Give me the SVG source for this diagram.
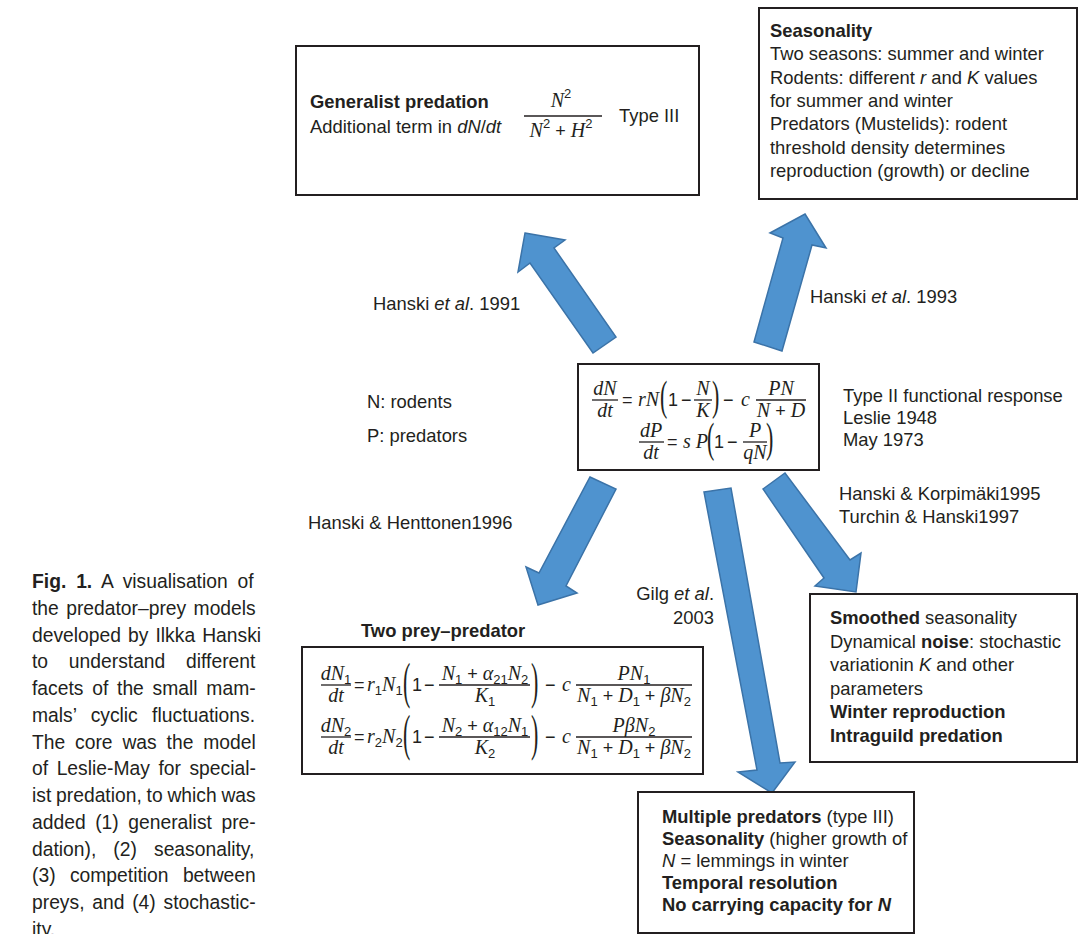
<svg xmlns="http://www.w3.org/2000/svg" width="1088" height="934" viewBox="0 0 1088 934">
<style>
text{font-family:"Liberation Sans",Arial,sans-serif;font-size:18.4px;fill:#231f20}
.b{font-weight:bold}
.i{font-style:italic}
.m{font-family:"Liberation Serif","Times New Roman",serif;font-style:italic;font-size:20px}
.s{font-family:"Liberation Sans",Arial,sans-serif;font-style:normal;font-size:13px}
.o{font-family:"Liberation Sans",Arial,sans-serif;font-style:normal;font-size:18px}
.p{font-family:"Liberation Serif","Times New Roman",serif;font-style:normal;font-size:22px}
.cap{font-size:19.3px}
.box{fill:#fff;stroke:#231f20;stroke-width:2}
.bar{stroke:#231f20;stroke-width:1.3}
.arr{fill:#4f93cf;stroke:#3b73a8;stroke-width:1.5;stroke-linejoin:miter}
</style>
<rect width="1088" height="934" fill="#fff"/>

<g id="connectors">
<polygon class="arr" points="525,233 565,240 554,248 616,337 593,353 530,263 518,272"/>
<polygon class="arr" points="805,214 826,248 812,245 782,351 754,342 783,238 770,233"/>
<polygon class="arr" points="590,477 616,489 566,586 577,593 538,605 526,567 539,573"/>
<polygon class="arr" points="704,492 731,488 780,763 795,762 772,793 738,772 757,770"/>
<polygon class="arr" points="763,489 785,473 850,560 861,553 856,592 815,586 824,578"/>
</g>

<g id="generalist">
<rect class="box" x="296" y="46" width="403" height="149"/>
<text class="b" x="310" y="108">Generalist predation</text>
<text x="310" y="133">Additional term in <tspan class="i">dN</tspan>/<tspan class="i">dt</tspan></text>
<text class="m" x="561" y="107" text-anchor="middle">N<tspan class="s" dy="-9">2</tspan></text>
<line class="bar" x1="524" y1="116" x2="602" y2="116"/>
<text class="m" x="561" y="137" text-anchor="middle">N<tspan class="s" dy="-9">2</tspan><tspan class="o" dy="9"> + </tspan>H<tspan class="s" dy="-9">2</tspan></text>
<text x="619" y="122">Type III</text>
</g>

<g id="seasonality">
<rect class="box" x="759" y="8" width="318" height="191"/>
<text class="b" x="770" y="37">Seasonality</text>
<text x="770" y="60.3">Two seasons: summer and winter</text>
<text x="770" y="83.6">Rodents: different <tspan class="i">r</tspan> and <tspan class="i">K</tspan> values</text>
<text x="770" y="107">for summer and winter</text>
<text x="770" y="130.3">Predators (Mustelids): rodent</text>
<text x="770" y="153.6">threshold density determines</text>
<text x="770" y="177">reproduction (growth) or decline</text>
</g>

<g id="labels">
<text x="373" y="310">Hanski <tspan class="i">et al</tspan>. 1991</text>
<text x="810" y="303">Hanski <tspan class="i">et al</tspan>. 1993</text>
<text x="367" y="408">N: rodents</text>
<text x="367" y="442">P: predators</text>
<text x="843" y="402">Type II functional response</text>
<text x="843" y="424">Leslie 1948</text>
<text x="843" y="446">May 1973</text>
<text x="308" y="529">Hanski &amp; Henttonen1996</text>
<text x="714" y="600" text-anchor="end">Gilg <tspan class="i">et al</tspan>.</text>
<text x="714" y="624" text-anchor="end">2003</text>
<text x="839" y="500">Hanski &amp; Korpimäki1995</text>
<text x="839" y="523">Turchin &amp; Hanski1997</text>
</g>

<g id="core">
<rect class="box" x="578" y="364" width="241" height="106"/>
<text class="m" x="605" y="395" text-anchor="middle">dN</text>
<line class="bar" x1="592" y1="400" x2="618" y2="400"/>
<text class="m" x="605" y="417" text-anchor="middle">dt</text>
<text class="o" x="622" y="406">=</text>
<text class="m" x="638" y="406">rN</text>
<text class="p" transform="translate(660 410) scale(1 1.9)">(</text>
<text class="o" x="668" y="406">1</text>
<text class="o" x="681" y="406">−</text>
<text class="m" x="703" y="395" text-anchor="middle">N</text>
<line class="bar" x1="694" y1="400" x2="712" y2="400"/>
<text class="m" x="703" y="417" text-anchor="middle">K</text>
<text class="p" transform="translate(712 410) scale(1 1.9)">)</text>
<text class="o" x="723" y="406">−</text>
<text class="m" x="741" y="406">c</text>
<text class="m" x="781" y="395" text-anchor="middle">PN</text>
<line class="bar" x1="756" y1="400" x2="806" y2="400"/>
<text class="m" x="781" y="417" text-anchor="middle">N<tspan class="o"> + </tspan>D</text>

<text class="m" x="651" y="437" text-anchor="middle">dP</text>
<line class="bar" x1="639" y1="442" x2="664" y2="442"/>
<text class="m" x="651" y="459" text-anchor="middle">dt</text>
<text class="o" x="667" y="448">=</text>
<text class="m" x="683" y="448">s P</text>
<text class="p" transform="translate(707 452) scale(1 1.9)">(</text>
<text class="o" x="714" y="448">1</text>
<text class="o" x="727" y="448">−</text>
<text class="m" x="755" y="437" text-anchor="middle">P</text>
<line class="bar" x1="743" y1="442" x2="767" y2="442"/>
<text class="m" x="755" y="459" text-anchor="middle">qN</text>
<text class="p" transform="translate(766 452) scale(1 1.9)">)</text>
</g>

<g id="twoprey">
<text class="b" x="361" y="637">Two prey–predator</text>
<rect class="box" x="302" y="647" width="401" height="127"/>
<text class="m" x="336" y="680" text-anchor="middle">dN<tspan class="s" dy="4">1</tspan></text>
<line class="bar" x1="321" y1="685" x2="351" y2="685"/>
<text class="m" x="336" y="702" text-anchor="middle">dt</text>
<text class="o" x="354" y="691">=</text>
<text class="m" x="367" y="691">r<tspan class="s" dy="4">1</tspan><tspan dy="-4">N</tspan><tspan class="s" dy="4">1</tspan></text>
<text class="p" transform="translate(403 697.6) scale(1 2.3)">(</text>
<text class="o" x="412" y="691">1</text>
<text class="o" x="424" y="691">−</text>
<text class="m" x="485" y="680" text-anchor="middle">N<tspan class="s" dy="4">1</tspan><tspan class="o" dy="-4"> + </tspan>α<tspan class="s" dy="4">21</tspan><tspan dy="-4">N</tspan><tspan class="s" dy="4">2</tspan></text>
<line class="bar" x1="439" y1="685" x2="530" y2="685"/>
<text class="m" x="485" y="702" text-anchor="middle">K<tspan class="s" dy="4">1</tspan></text>
<text class="p" transform="translate(531 697.6) scale(1 2.3)">)</text>
<text class="o" x="545" y="691">−</text>
<text class="m" x="562" y="691">c</text>
<text class="m" x="634" y="680" text-anchor="middle">PN<tspan class="s" dy="4">1</tspan></text>
<line class="bar" x1="576" y1="685" x2="692" y2="685"/>
<text class="m" x="634" y="702" text-anchor="middle">N<tspan class="s" dy="4">1</tspan><tspan class="o" dy="-4"> + </tspan>D<tspan class="s" dy="4">1</tspan><tspan class="o" dy="-4"> + </tspan>βN<tspan class="s" dy="4">2</tspan></text>

<text class="m" x="336" y="732" text-anchor="middle">dN<tspan class="s" dy="4">2</tspan></text>
<line class="bar" x1="321" y1="737" x2="351" y2="737"/>
<text class="m" x="336" y="754" text-anchor="middle">dt</text>
<text class="o" x="354" y="743">=</text>
<text class="m" x="367" y="743">r<tspan class="s" dy="4">2</tspan><tspan dy="-4">N</tspan><tspan class="s" dy="4">2</tspan></text>
<text class="p" transform="translate(403 749.6) scale(1 2.3)">(</text>
<text class="o" x="412" y="743">1</text>
<text class="o" x="424" y="743">−</text>
<text class="m" x="485" y="732" text-anchor="middle">N<tspan class="s" dy="4">2</tspan><tspan class="o" dy="-4"> + </tspan>α<tspan class="s" dy="4">12</tspan><tspan dy="-4">N</tspan><tspan class="s" dy="4">1</tspan></text>
<line class="bar" x1="439" y1="737" x2="530" y2="737"/>
<text class="m" x="485" y="754" text-anchor="middle">K<tspan class="s" dy="4">2</tspan></text>
<text class="p" transform="translate(531 749.6) scale(1 2.3)">)</text>
<text class="o" x="545" y="743">−</text>
<text class="m" x="562" y="743">c</text>
<text class="m" x="634" y="732" text-anchor="middle">PβN<tspan class="s" dy="4">2</tspan></text>
<line class="bar" x1="576" y1="737" x2="692" y2="737"/>
<text class="m" x="634" y="754" text-anchor="middle">N<tspan class="s" dy="4">1</tspan><tspan class="o" dy="-4"> + </tspan>D<tspan class="s" dy="4">1</tspan><tspan class="o" dy="-4"> + </tspan>βN<tspan class="s" dy="4">2</tspan></text>
</g>

<g id="smoothed">
<rect class="box" x="810" y="594" width="267" height="168"/>
<text x="830" y="624"><tspan class="b">Smoothed</tspan> seasonality</text>
<text x="830" y="647.5">Dynamical <tspan class="b">noise</tspan>: stochastic</text>
<text x="830" y="671">variationin <tspan class="i">K</tspan> and other</text>
<text x="830" y="694.5">parameters</text>
<text class="b" x="830" y="718">Winter reproduction</text>
<text class="b" x="830" y="741.5">Intraguild predation</text>
</g>

<g id="multiple">
<rect class="box" x="638" y="792" width="276" height="141"/>
<text x="662" y="823"><tspan class="b">Multiple predators</tspan> (type III)</text>
<text x="662" y="845"><tspan class="b">Seasonality</tspan> (higher growth of</text>
<text x="662" y="867"><tspan class="i">N</tspan> = lemmings in winter</text>
<text class="b" x="662" y="889">Temporal resolution</text>
<text class="b" x="662" y="911">No carrying capacity for <tspan class="i">N</tspan></text>
</g>

<g id="caption">
<text class="cap" x="32" y="588" word-spacing="4.5"><tspan class="b">Fig. 1.</tspan> A visualisation of</text>
<text class="cap" x="32" y="614.75" word-spacing="2.0">the predator–prey models</text>
<text class="cap" x="32" y="641.5" word-spacing="1.7">developed by Ilkka Hanski</text>
<text class="cap" x="32" y="668.25" word-spacing="15.4">to understand different</text>
<text class="cap" x="32" y="695" word-spacing="3.4">facets of the small mam-</text>
<text class="cap" x="32" y="721.75" word-spacing="9.0">mals’ cyclic fluctuations.</text>
<text class="cap" x="32" y="748.5" word-spacing="4.5">The core was the model</text>
<text class="cap" x="32" y="775.25" word-spacing="3.2">of Leslie-May for special-</text>
<text class="cap" x="32" y="802" word-spacing="-0.6">ist predation, to which was</text>
<text class="cap" x="32" y="828.75" word-spacing="4.2">added (1) generalist pre-</text>
<text class="cap" x="32" y="855.5" word-spacing="11.7">dation), (2) seasonality,</text>
<text class="cap" x="32" y="882.25" word-spacing="9.0">(3) competition between</text>
<text class="cap" x="32" y="909" word-spacing="2.4">preys, and (4) stochastic-</text>
<text class="cap" x="32" y="935.75">ity.</text>
</g>
</svg>
